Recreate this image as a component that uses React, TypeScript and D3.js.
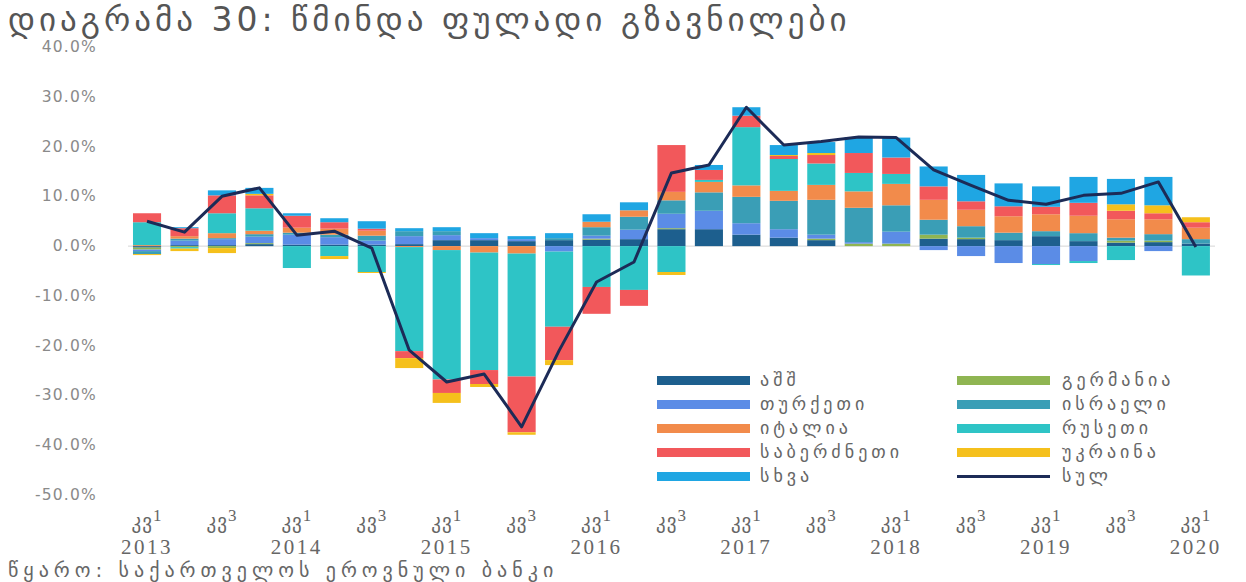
import React from "react";
import * as d3 from "d3";

const quarters = [
  "2013Q1","2013Q2","2013Q3","2013Q4","2014Q1","2014Q2","2014Q3","2014Q4",
  "2015Q1","2015Q2","2015Q3","2015Q4","2016Q1","2016Q2","2016Q3","2016Q4",
  "2017Q1","2017Q2","2017Q3","2017Q4","2018Q1","2018Q2","2018Q3","2018Q4",
  "2019Q1","2019Q2","2019Q3","2019Q4","2020Q1",
];

const usa = [-0.3,0.2,0.2,0.4,0.3,0.3,0.3,0.4,1.2,1.2,1.0,1.2,1.3,1.4,3.4,3.4,2.3,1.7,1.2,0.0,0.0,1.5,1.4,1.2,2.0,1.0,0.7,0.8,0.5];
const germany = [-0.4,-0.2,-0.4,0.2,0,0,0,0,0,0,0,0,0.2,0,0.2,0,0,0,0.3,0.5,0.5,0.8,0.3,0,0,0,0.4,0.3,0];
const turkey = [-0.3,0.9,1.2,1.3,2.0,1.5,0.8,1.6,1.0,0.4,0.4,-1.1,0.6,1.9,2.9,3.7,2.3,1.7,0.8,0.3,2.4,-0.8,-2.0,-3.4,-3.6,-3.0,0,-1.0,0];
const israel = [-0.6,0.4,0.2,0.5,0.4,0.5,1.0,1.0,0.8,0,0,0.4,1.7,2.6,2.7,3.7,5.3,5.7,7.0,6.9,5.3,3.0,2.3,1.5,1.0,1.6,0.6,1.3,0.9];
const italy = [0.2,0.5,1.0,0.7,1.0,1.2,1.0,-0.2,-0.8,-1.3,-1.5,0,1.1,1.3,1.7,2.1,2.3,2.0,3.0,3.3,4.3,4.0,3.3,3.3,3.4,3.5,3.7,3.0,2.3];
const russia = [4.6,-0.3,4.0,4.5,-4.4,-2.0,-5.2,-20.9,-26.0,-23.6,-24.7,-15.1,-8.2,-8.8,-5.2,0.4,11.7,6.4,4.3,3.7,2.0,0,0,0,-0.2,-0.4,-2.8,0,-5.9];
const greece = [1.8,1.6,3.6,2.6,2.4,1.3,0.4,-1.4,-2.7,-2.8,-11.2,-6.7,-5.4,-3.2,9.4,2.0,2.3,0.6,1.7,4.0,3.3,2.7,1.7,2.0,1.5,2.6,1.7,1.2,1.1];
const ukraine = [-0.2,-0.5,-1.0,0.3,0,-0.6,-0.2,-2.0,-2.0,-0.6,-0.5,-1.0,0,0,-0.6,0,0,0.2,0.4,0,0,0,0,0,0,0,1.3,1.6,1.0];
const other = [0,0.2,1.0,1.2,0.5,0.8,1.5,0.6,0.8,1.0,0.6,1.0,1.5,1.6,0,1.0,1.7,2.0,2.2,3.2,4.0,4.0,5.3,4.6,4.1,5.2,5.1,5.7,0];
const total = [5.0,2.8,10.0,11.7,2.2,3.0,-0.4,-20.9,-27.3,-25.7,-36.3,-21.0,-7.2,-3.2,14.7,16.3,27.9,20.3,21.0,21.9,21.8,15.3,12.2,9.2,8.4,10.2,10.6,12.9,-0.2];

const seriesNames = ["აშშ","გერმანია","თურქეთი","ისრაელი","იტალია","რუსეთი","საბერძნეთი","უკრაინა","სხვა"];
const seriesValues = [usa, germany, turkey, israel, italy, russia, greece, ukraine, other];
const seriesColors = ["#1d5f8e","#8fb552","#5b8ce6","#3a9eb6","#f28b4b","#2ec4c6","#f2585b","#f5c01c","#1fa6e3"];
const totalName = "სულ";
const totalColor = "#1c2b57";

const yTicks = [40,30,20,10,0,-10,-20,-30,-40,-50];
const qLabelPrefix = "კვ";
const title = "დიაგრამა 30: წმინდა ფულადი გზავნილები";
const source = "წყარო: საქართველოს ეროვნული ბანკი";

const GEO = "'DejaVu Sans', sans-serif";
const SERIF = "'Liberation Serif', 'DejaVu Serif', serif";

export default function App() {
  const W = 1246, H = 582;
  const x = d3.scaleBand<string>().domain(quarters).range([128.3, 1214.6]).paddingInner(0.25).paddingOuter(0.125);
  const y = d3.scaleLinear().domain([-50, 40]).range([495, 47]);

  const rows = quarters.map((q, i) => {
    const r: any = { q };
    seriesNames.forEach((n, k) => (r[n] = seriesValues[k][i]));
    return r;
  });
  const stacked = d3.stack<any>().keys(seriesNames).offset(d3.stackOffsetDiverging)(rows);

  const line = d3.line<number>()
    .x((_, i) => (x(quarters[i]) as number) + x.bandwidth() / 2)
    .y((d) => y(d));

  const legendLeft = [0, 2, 4, 6, 8];
  const legendRight = [1, 3, 5, 7];
  const legFont = 18;
  const legSpacing = 4;

  return (
    <svg width={W} height={H} style={{ position: "absolute", left: 0, top: 0, background: "#fff" }}>
      <text x={8} y={31} fontFamily={GEO} fontSize={33} fill="#555" letterSpacing={4}>{title}</text>

      {yTicks.map((t) => (
        <text key={t} x={97} y={y(t) + 5} textAnchor="end" fontFamily={GEO} fontSize={15.5} fill="#8a8a8a" letterSpacing={1.2}>
          {t.toFixed(1) + "%"}
        </text>
      ))}

      <line x1={128} x2={1215} y1={y(0)} y2={y(0)} stroke="#d5d5d5" strokeWidth={1} />

      {stacked.map((s, k) => (
        <g key={s.key} fill={seriesColors[k]}>
          {s.map((d, i) => {
            const y0 = y(d[0]), y1 = y(d[1]);
            const h = Math.abs(y0 - y1);
            if (h < 0.01) return null;
            return (
              <rect key={i} x={x(quarters[i])} width={x.bandwidth()} y={Math.min(y0, y1)} height={h} />
            );
          })}
        </g>
      ))}

      <path d={line(total) || ""} fill="none" stroke={totalColor} strokeWidth={3} strokeLinejoin="round" />

      {quarters.map((q, i) => {
        const qi = i % 4;
        if (qi !== 0 && qi !== 2) return null;
        const cx = (x(q) as number) + x.bandwidth() / 2;
        return (
          <g key={q}>
            <text x={cx} y={528} textAnchor="middle" fontFamily={GEO} fontSize={19} fill="#666" letterSpacing={1}>
              {qLabelPrefix}
              <tspan fontFamily={SERIF} fontSize={17} dy={-7}>{qi === 0 ? "1" : "3"}</tspan>
            </text>
            {qi === 0 && (
              <text x={cx} y={554} textAnchor="middle" fontFamily={SERIF} fontSize={21} fill="#666" letterSpacing={2.5}>
                {q.slice(0, 4)}
              </text>
            )}
          </g>
        );
      })}

      {legendLeft.map((k, r) => (
        <g key={k}>
          <rect x={657} y={376 + r * 24} width={93} height={9} fill={seriesColors[k]} />
          <text x={760} y={386 + r * 24} fontFamily={GEO} fontSize={legFont} fill="#666" letterSpacing={legSpacing}>{seriesNames[k]}</text>
        </g>
      ))}
      {legendRight.map((k, r) => (
        <g key={k}>
          <rect x={957} y={376 + r * 24} width={93} height={9} fill={seriesColors[k]} />
          <text x={1062} y={386 + r * 24} fontFamily={GEO} fontSize={legFont} fill="#666" letterSpacing={legSpacing}>{seriesNames[k]}</text>
        </g>
      ))}
      <line x1={957} x2={1050} y1={380.5 + 4 * 24} y2={380.5 + 4 * 24} stroke={totalColor} strokeWidth={3} />
      <text x={1062} y={386 + 4 * 24} fontFamily={GEO} fontSize={legFont} fill="#666" letterSpacing={legSpacing}>{totalName}</text>

      <text x={8} y={577} fontFamily={GEO} fontSize={20} fill="#666" letterSpacing={5}>{source}</text>
    </svg>
  );
}
